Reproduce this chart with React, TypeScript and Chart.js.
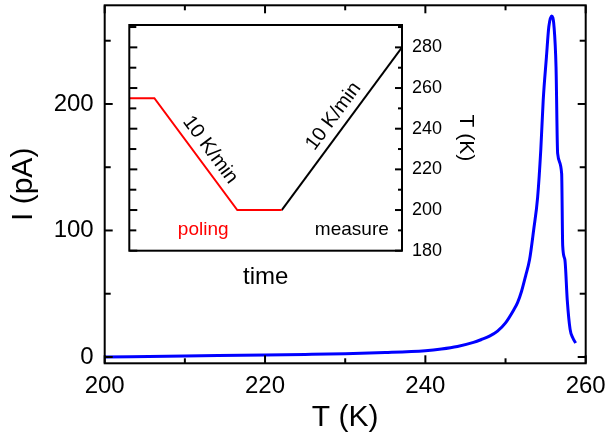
import React, { useEffect, useRef } from 'react';
import { Chart, registerables } from 'chart.js';

Chart.register(...registerables);

// ---- main chart data: pyroelectric current vs temperature ----
const temperatureK = [200, 210, 220, 225, 230, 235, 240, 242, 244, 246, 247, 248, 249, 250, 251, 251.5, 252, 252.5, 253, 253.5, 254, 254.4, 254.7, 255.1, 255.4, 255.75, 256.05, 256.3, 256.5, 257.0, 257.13, 257.4, 257.7, 258.05, 258.4, 258.75];
const currentPA = [0, 0.8, 1.5, 2, 2.6, 3.5, 5, 6.3, 8.3, 11.5, 13.8, 16.5, 20.5, 27, 37, 43, 52, 64, 77, 100, 126, 164, 203, 237, 261, 269.5, 261, 229, 161, 145, 88, 77, 45, 22, 15, 11];

const mainXTicks = [200, 220, 240, 260];
const mainXMinor = [210, 230, 250];
const mainYTicks = [0, 100, 200];
const mainYMinor = [50, 150, 250];

// ---- inset data: temperature program vs time ----
const poleTime = [0, 9.2, 39.6, 55.9];
const poleTempK = [255, 255, 200, 200];
const measureTime = [55.9, 100];
const measureTempK = [200, 280];
const insetYTicks = [180, 200, 220, 240, 260, 280];
const insetYMinor = [190, 210, 230, 250, 270, 290];

const FONT = '"Liberation Sans", Arial, Helvetica, sans-serif';

type TickSpec = { scaleId: string; side: 'left' | 'right' | 'top' | 'bottom'; values: number[]; len: number };

const framePlugin = {
  id: 'frame',
  afterDatasetsDraw(chart: any, _args: any, opts: any) {
    const { ctx, chartArea: a } = chart;
    ctx.save();
    ctx.strokeStyle = '#000';
    ctx.lineWidth = opts.lineWidth || 2;
    ctx.lineCap = 'butt';
    (opts.ticks as TickSpec[]).forEach((t) => {
      const s = chart.scales[t.scaleId];
      t.values.forEach((v) => {
        const p = s.getPixelForValue(v);
        ctx.beginPath();
        if (t.side === 'left') { ctx.moveTo(a.left, p); ctx.lineTo(a.left + t.len, p); }
        if (t.side === 'right') { ctx.moveTo(a.right, p); ctx.lineTo(a.right - t.len, p); }
        if (t.side === 'bottom') { ctx.moveTo(p, a.bottom); ctx.lineTo(p, a.bottom - t.len); }
        if (t.side === 'top') { ctx.moveTo(p, a.top); ctx.lineTo(p, a.top + t.len); }
        ctx.stroke();
      });
    });
    ctx.strokeRect(a.left, a.top, a.right - a.left, a.bottom - a.top);
    ctx.restore();
  },
};

const insetTextPlugin = {
  id: 'insetText',
  afterDatasetsDraw(chart: any) {
    const { ctx } = chart;
    const xs = chart.scales.x;
    const ys = chart.scales.y;
    const px = (t: number, T: number) => ({ x: xs.getPixelForValue(t), y: ys.getPixelForValue(T) });
    ctx.save();
    ctx.font = `20px ${FONT}`;
    ctx.textAlign = 'center';
    ctx.textBaseline = 'middle';
    const slopeLabel = (p1: any, p2: any, color: string) => {
      const ang = Math.atan2(p2.y - p1.y, p2.x - p1.x);
      const dx = Math.cos(ang), dy = Math.sin(ang);
      let nx = dy, ny = -dx;
      if (ny > 0) { nx = -nx; ny = -ny; }
      const mx = (p1.x + p2.x) / 2 + nx * 14 + dx * 5;
      const my = (p1.y + p2.y) / 2 + ny * 14 + dy * 5;
      ctx.save();
      ctx.translate(mx, my);
      ctx.rotate(ang);
      ctx.fillStyle = color;
      ctx.fillText('10 K/min', 0, 0);
      ctx.restore();
    };
    slopeLabel(px(poleTime[1], poleTempK[1]), px(poleTime[2], poleTempK[2]), '#000');
    slopeLabel(px(measureTime[0], measureTempK[0]), px(measureTime[1], measureTempK[1]), '#000');
    ctx.font = `19px ${FONT}`;
    const pol = px(27.1, 190.2);
    ctx.fillStyle = '#ff0000';
    ctx.fillText('poling', pol.x, pol.y);
    const mea = px(81.6, 190.2);
    ctx.fillStyle = '#000';
    ctx.fillText('measure', mea.x, mea.y);
    ctx.restore();
  },
};

const fixTicks = (vals: number[]) => (s: any) => { s.ticks = vals.map((v) => ({ value: v })); };
const fitBox = (prop: 'width' | 'height', size: number) => (s: any) => {
  s[prop] = size;
  s.paddingTop = 0; s.paddingBottom = 0; s.paddingLeft = 0; s.paddingRight = 0;
};

export default function App() {
  const mainRef = useRef<HTMLCanvasElement | null>(null);
  const insetRef = useRef<HTMLCanvasElement | null>(null);

  useEffect(() => {
    Chart.defaults.font.family = FONT;
    Chart.defaults.color = '#000';

    const main = new Chart(mainRef.current as HTMLCanvasElement, {
      type: 'line',
      data: {
        datasets: [{
          data: temperatureK.map((t, i) => ({ x: t, y: currentPA[i] })),
          borderColor: '#0000ff',
          borderWidth: 3,
          pointRadius: 0,
          cubicInterpolationMode: 'monotone',
          fill: false,
        }],
      },
      options: {
        animation: false,
        responsive: false,
        layout: { padding: { left: 0, right: 24.3, top: 5.3, bottom: 0 } },
        plugins: {
          legend: { display: false },
          tooltip: { enabled: false },
          frame: {
            lineWidth: 2,
            ticks: [
              { scaleId: 'x', side: 'bottom', values: mainXTicks, len: 8 },
              { scaleId: 'x', side: 'bottom', values: mainXMinor, len: 5 },
              { scaleId: 'x', side: 'top', values: mainXTicks, len: 8 },
              { scaleId: 'x', side: 'top', values: mainXMinor, len: 5 },
              { scaleId: 'y', side: 'left', values: mainYTicks, len: 8 },
              { scaleId: 'y', side: 'left', values: mainYMinor, len: 6 },
              { scaleId: 'y', side: 'right', values: mainYTicks, len: 8 },
              { scaleId: 'y', side: 'right', values: mainYMinor, len: 6 },
            ],
          },
        } as any,
        scales: {
          x: {
            type: 'linear', min: 200, max: 260,
            afterBuildTicks: fixTicks(mainXTicks),
            afterFit: fitBox('height', 75.7),
            grid: { display: false, drawTicks: false },
            border: { display: false },
            ticks: { padding: 9, font: { size: 24 }, maxRotation: 0, autoSkip: false },
            title: { display: true, text: 'T (K)', font: { size: 30 }, padding: { top: 0, bottom: 3 } },
          },
          y: {
            type: 'linear', min: -5, max: 278,
            afterBuildTicks: fixTicks(mainYTicks),
            afterFit: fitBox('width', 104.7),
            grid: { display: false, drawTicks: false },
            border: { display: false },
            ticks: { padding: 11, font: { size: 24 }, autoSkip: false },
            title: { display: true, text: 'I (pA)', font: { size: 30 }, padding: { top: 6, bottom: 0 } },
          },
        },
      },
      plugins: [framePlugin],
    } as any);

    const inset = new Chart(insetRef.current as HTMLCanvasElement, {
      type: 'line',
      data: {
        datasets: [
          {
            data: poleTime.map((t, i) => ({ x: t, y: poleTempK[i] })),
            borderColor: '#ff0000', borderWidth: 2, pointRadius: 0, tension: 0, fill: false,
          },
          {
            data: measureTime.map((t, i) => ({ x: t, y: measureTempK[i] })),
            borderColor: '#000000', borderWidth: 2, pointRadius: 0, tension: 0, fill: false,
          },
        ],
      },
      options: {
        animation: false,
        responsive: false,
        layout: { padding: { left: 9.3, top: 10, right: 0, bottom: 0 } },
        plugins: {
          legend: { display: false },
          tooltip: { enabled: false },
          frame: {
            lineWidth: 2,
            ticks: [
              { scaleId: 'y', side: 'left', values: insetYTicks, len: 8 },
              { scaleId: 'y', side: 'left', values: insetYMinor, len: 7 },
              { scaleId: 'y', side: 'right', values: insetYTicks, len: 7 },
              { scaleId: 'y', side: 'right', values: insetYMinor, len: 4 },
            ],
          },
        } as any,
        scales: {
          x: {
            type: 'linear', min: 0, max: 100,
            afterFit: fitBox('height', 49.3),
            grid: { display: false, drawTicks: false },
            border: { display: false },
            ticks: { display: false },
            title: { display: true, text: 'time', font: { size: 24 }, padding: { top: 0, bottom: 8.6 } },
          },
          y: {
            type: 'linear', position: 'right', min: 180, max: 291,
            afterBuildTicks: fixTicks(insetYTicks),
            afterFit: fitBox('width', 83),
            grid: { display: false, drawTicks: false },
            border: { display: false },
            ticks: { padding: 10, font: { size: 18 }, autoSkip: false },
            title: { display: true, text: 'T (K)', font: { size: 21 }, padding: { top: 7, bottom: 0 } },
          },
        },
      },
      plugins: [framePlugin, insetTextPlugin],
    } as any);

    return () => {
      main.destroy();
      inset.destroy();
    };
  }, []);

  return (
    <div style={{ position: 'absolute', left: 0, top: 0, width: 610, height: 439, background: '#fff' }}>
      <canvas ref={mainRef} width={610} height={439} style={{ position: 'absolute', left: 0, top: 0 }} />
      <canvas ref={insetRef} width={365} height={285} style={{ position: 'absolute', left: 120, top: 15 }} />
    </div>
  );
}
